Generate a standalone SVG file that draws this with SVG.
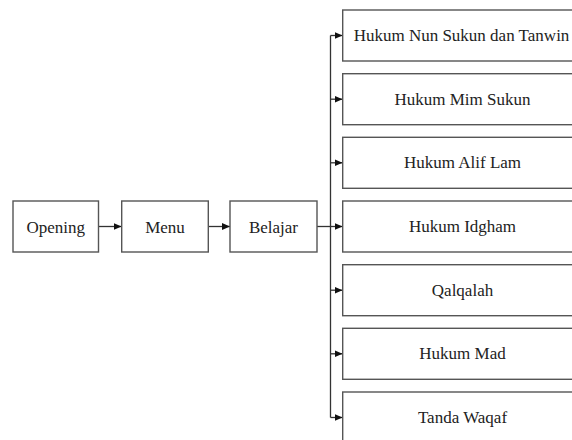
<svg xmlns="http://www.w3.org/2000/svg" width="572" height="440" viewBox="0 0 572 440">
<style>
.box{fill:#fff;stroke:#555;stroke-width:1.4}
.lbl{font-family:"Liberation Serif","Times New Roman",serif;font-size:17px;fill:#222;text-anchor:middle}
.ln{fill:none;stroke:#333;stroke-width:1.3}
</style>
<defs>
<marker id="ah" markerUnits="userSpaceOnUse" markerWidth="9" markerHeight="8" refX="8" refY="4" orient="auto">
<path d="M0,0.5 L8,4 L0,7.5 Z" fill="#111"/>
</marker>
</defs>
<rect width="572" height="440" fill="#fff"/>
<g id="connectors">
<path class="ln" d="M98.5,226.5 H121.5" marker-end="url(#ah)"/>
<path class="ln" d="M208.5,226.5 H230" marker-end="url(#ah)"/>
<path class="ln" d="M317,226.5 H342.5" marker-end="url(#ah)"/>
<path class="ln" d="M330.5,35.5 V417.5"/>
<path class="ln" d="M330.5,35.5 H342.5" marker-end="url(#ah)"/>
<path class="ln" d="M330.5,99.2 H342.5" marker-end="url(#ah)"/>
<path class="ln" d="M330.5,162.8 H342.5" marker-end="url(#ah)"/>
<path class="ln" d="M330.5,290.2 H342.5" marker-end="url(#ah)"/>
<path class="ln" d="M330.5,353.8 H342.5" marker-end="url(#ah)"/>
<path class="ln" d="M330.5,417.5 H342.5" marker-end="url(#ah)"/>
</g>
<g id="opening"><rect class="box" x="13" y="201" width="85.5" height="51"/><text class="lbl" x="55.7" y="232.5">Opening</text></g>
<g id="menu"><rect class="box" x="121.7" y="201" width="86.6" height="51"/><text class="lbl" x="165" y="232.5">Menu</text></g>
<g id="belajar"><rect class="box" x="230" y="201" width="87" height="51"/><text class="lbl" x="273.5" y="232.5">Belajar</text></g>
<g id="nun"><rect class="box" x="342.7" y="10" width="240" height="51"/><text class="lbl" x="461.5" y="41">Hukum Nun Sukun dan Tanwin</text></g>
<g id="mim"><rect class="box" x="342.7" y="73.7" width="240" height="51"/><text class="lbl" x="462.5" y="104.7">Hukum Mim Sukun</text></g>
<g id="alif"><rect class="box" x="342.7" y="137.3" width="240" height="51"/><text class="lbl" x="462.5" y="168.3">Hukum Alif Lam</text></g>
<g id="idgham"><rect class="box" x="342.7" y="201" width="240" height="51"/><text class="lbl" x="462.5" y="232">Hukum Idgham</text></g>
<g id="qalqalah"><rect class="box" x="342.7" y="264.7" width="240" height="51"/><text class="lbl" x="462.5" y="295.7">Qalqalah</text></g>
<g id="mad"><rect class="box" x="342.7" y="328.3" width="240" height="51"/><text class="lbl" x="462.5" y="359.3">Hukum Mad</text></g>
<g id="waqaf"><rect class="box" x="342.7" y="392" width="240" height="51"/><text class="lbl" x="462.5" y="423">Tanda Waqaf</text></g>
</svg>
